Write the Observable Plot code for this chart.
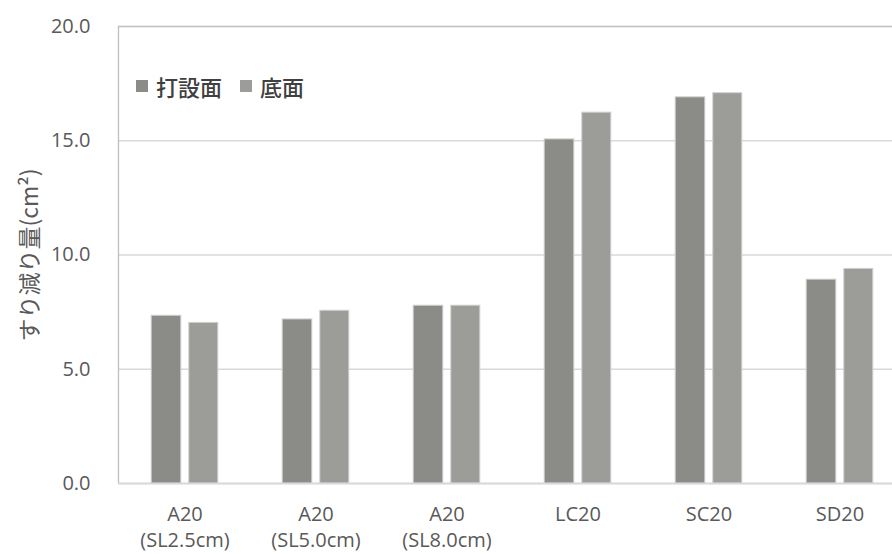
<!DOCTYPE html>
<html>
<head>
<meta charset="utf-8">
<script src="https://cdn.jsdelivr.net/npm/d3@7"></script>
<script src="https://cdn.jsdelivr.net/npm/@observablehq/plot@0.6"></script>
<style>
  html, body { margin: 0; padding: 0; background: #fff; overflow: hidden; }
  #wrap { position: relative; width: 892px; height: 554px; }
  #legend { position: absolute; left: 136px; top: 70px; display: flex; align-items: center;
    font-family: "Noto Sans CJK JP", sans-serif; font-size: 22px; color: #404040; font-weight: 500; }
  #legend .sw { display: inline-block; width: 12px; height: 12px; margin-right: 8px; }
  #legend .item { display: flex; align-items: center; margin-right: 18px; }
</style>
</head>
<body>
<div id="wrap"><div id="legend"></div></div>
<script>
const categories = ["A20 (SL2.5cm)", "A20 (SL5.0cm)", "A20 (SL8.0cm)", "LC20", "SC20", "SD20"];
const tickLabels = ["A20\n(SL2.5cm)", "A20\n(SL5.0cm)", "A20\n(SL8.0cm)", "LC20", "SC20", "SD20"];
const seriesNames = ["打設面", "底面"];
const castSurface = [7.34, 7.18, 7.78, 15.06, 16.90, 8.92];
const bottomSurface = [7.03, 7.56, 7.78, 16.23, 17.08, 9.39];
const yTicks = [0, 5, 10, 15, 20];
const colors = ["#8b8c87", "#9c9d98"];

const rows = [];
categories.forEach((c, i) => {
  rows.push({cat: c, series: seriesNames[0], value: castSurface[i]});
  rows.push({cat: c, series: seriesNames[1], value: bottomSurface[i]});
});

const font = `"Open Sans", "Noto Sans CJK JP", sans-serif`;

const chart = Plot.plot({
  width: 892,
  height: 554,
  marginLeft: 118,
  marginRight: -1,
  marginTop: 26,
  marginBottom: 71,
  style: {fontFamily: font, color: "#595959", background: "#fff"},
  x: {type: "band", domain: categories, range: [118.5, 904.5], padding: 0},
  y: {domain: [0, 20]},
  marks: [
    Plot.gridY(yTicks, {stroke: "#d9d9d9", strokeOpacity: 1, strokeWidth: 1.3}),
    Plot.frame({stroke: "#bfbfbf", strokeWidth: 1.3}),
    Plot.barY(rows.filter(d => d.series === seriesNames[0]), {
      x: "cat", y: "value", fill: colors[0], stroke: "#d0d0d0", strokeWidth: 1,
      insetLeft: 32.2, insetRight: 69.2
    }),
    Plot.barY(rows.filter(d => d.series === seriesNames[1]), {
      x: "cat", y: "value", fill: colors[1], stroke: "#d0d0d0", strokeWidth: 1,
      insetLeft: 69.8, insetRight: 32.2
    }),
    Plot.ruleY([0], {stroke: "#d9d9d9", strokeWidth: 1.6}),
    Plot.axisY({ticks: yTicks, tickFormat: d3.format(".1f"), tickSize: 0, tickPadding: 28,
      fontSize: 20, label: null, fill: "#595959"}),
    Plot.axisY({ticks: [], label: "すり減り量(cm²)", labelAnchor: "center", labelOffset: 97,
      labelArrow: "none", fontSize: 23, fontFamily: `"Noto Sans CJK JP", sans-serif`, fill: "#595959"}),
    Plot.axisX({tickFormat: (d, i) => tickLabels[categories.indexOf(d)], tickSize: 0, tickPadding: 19,
      fontSize: 20, lineHeight: 1.3, label: null, fill: "#595959"})
  ]
});
document.getElementById("wrap").prepend(chart);

const legend = document.getElementById("legend");
seriesNames.forEach((s, i) => {
  const item = document.createElement("div");
  item.className = "item";
  const sw = document.createElement("span");
  sw.className = "sw";
  sw.style.background = colors[i];
  const t = document.createElement("span");
  t.textContent = s;
  item.append(sw, t);
  legend.append(item);
});
</script>
</body>
</html>
